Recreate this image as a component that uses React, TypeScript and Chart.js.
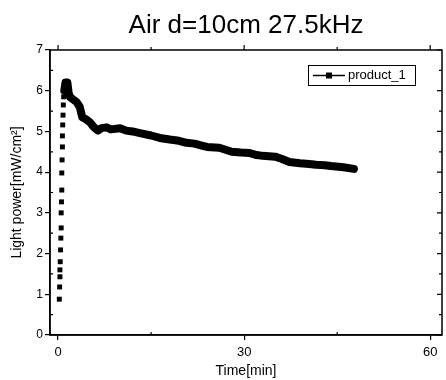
import React, { useEffect, useRef } from "react";
import { Chart, registerables } from "chart.js";

Chart.register(...registerables);

const TITLE = "Air d=10cm 27.5kHz";
const SERIES_LABEL = "product_1";
const X_TITLE = "Time[min]";
const Y_TITLE = "Light power[mW/cm²]";

const xTicks = [0, 30, 60];
const xMinorTicks = [15, 45];
const yTicks = [0, 1, 2, 3, 4, 5, 6, 7];
const yMinorTicks = [0.5, 1.5, 2.5, 3.5, 4.5, 5.5, 6.5];

// rising part (individual square markers)
const riseTime = [0.2, 0.25, 0.3, 0.3, 0.35, 0.4, 0.45, 0.5, 0.5, 0.55, 0.6, 0.6, 0.65, 0.7, 0.7, 0.75, 0.8, 0.85, 0.9];
const risePower = [0.88, 1.18, 1.43, 1.6, 1.8, 2.09, 2.38, 2.63, 3.0, 3.27, 3.56, 3.98, 4.3, 4.62, 4.89, 5.16, 5.4, 5.65, 5.85];

// decaying part (dense markers, drawn as a thick trace)
const decayTime = [1.0, 1.2, 1.5, 1.7, 1.9, 2.3, 3.0, 3.5, 3.9, 4.5, 5.1, 5.8, 6.4, 7.0, 7.8, 8.5, 10, 11, 12, 13.2, 15, 16.4, 18, 19.5, 20.7, 22, 23, 24, 26, 27, 28, 29.5, 30.9, 32, 33, 35, 36, 37.3, 39, 40.5, 41.6, 43, 44, 46, 47.7];
const decayPower = [6.0, 6.2, 6.2, 5.95, 5.85, 5.8, 5.72, 5.6, 5.35, 5.3, 5.23, 5.1, 5.02, 5.08, 5.1, 5.05, 5.08, 5.02, 5.0, 4.96, 4.9, 4.84, 4.8, 4.77, 4.72, 4.7, 4.66, 4.62, 4.6, 4.55, 4.5, 4.48, 4.47, 4.42, 4.4, 4.38, 4.33, 4.25, 4.22, 4.2, 4.18, 4.17, 4.15, 4.12, 4.08];

const FONT = "'Liberation Sans', Arial, sans-serif";

const framePlugin = {
  id: "frame",
  afterDraw(chart: any) {
    const { ctx, chartArea: a, scales } = chart;
    const xs = scales.x;
    const ys = scales.y;
    ctx.save();
    ctx.strokeStyle = "#000";
    ctx.lineWidth = 1.5;
    ctx.strokeRect(a.left, a.top, a.right - a.left, a.bottom - a.top);
    ctx.lineWidth = 1.2;
    ctx.beginPath();
    xTicks.forEach((v) => {
      const px = xs.getPixelForValue(v);
      ctx.moveTo(px, a.top);
      ctx.lineTo(px, a.top - 5);
    });
    xMinorTicks.forEach((v) => {
      const px = xs.getPixelForValue(v);
      ctx.moveTo(px, a.bottom);
      ctx.lineTo(px, a.bottom - 3);
      ctx.moveTo(px, a.top);
      ctx.lineTo(px, a.top - 3);
    });
    yTicks.forEach((v) => {
      const py = ys.getPixelForValue(v);
      ctx.moveTo(a.right, py);
      ctx.lineTo(a.right - 5, py);
    });
    yMinorTicks.forEach((v) => {
      const py = ys.getPixelForValue(v);
      ctx.moveTo(a.right, py);
      ctx.lineTo(a.right - 3, py);
      ctx.moveTo(a.left, py);
      ctx.lineTo(a.left + 3, py);
    });
    ctx.stroke();

    // title
    ctx.fillStyle = "#000";
    ctx.font = `26px ${FONT}`;
    ctx.textAlign = "center";
    ctx.textBaseline = "alphabetic";
    ctx.fillText(TITLE, (a.left + a.right) / 2, 33);

    // legend
    const lx = a.right - 134;
    const ly = a.top + 15;
    const lw = 107;
    const lh = 20;
    ctx.lineWidth = 1;
    ctx.strokeRect(lx + 0.5, ly + 0.5, lw, lh);
    const cy = ly + lh / 2 + 0.5;
    ctx.lineWidth = 1.5;
    ctx.beginPath();
    ctx.moveTo(lx + 5, cy);
    ctx.lineTo(lx + 37, cy);
    ctx.stroke();
    ctx.fillRect(lx + 18, cy - 3, 6, 6);
    ctx.font = `13px ${FONT}`;
    ctx.textAlign = "left";
    ctx.textBaseline = "middle";
    ctx.fillText(SERIES_LABEL, lx + 40, cy);
    ctx.restore();
  },
};

export default function App() {
  const ref = useRef<HTMLCanvasElement | null>(null);
  useEffect(() => {
    if (!ref.current) return;
    const chart = new Chart(ref.current, {
      type: "scatter",
      data: {
        datasets: [
          {
            label: SERIES_LABEL,
            data: riseTime.map((t, i) => ({ x: t, y: risePower[i] })),
            showLine: false,
            pointStyle: "rect",
            pointRadius: 3.5,
            backgroundColor: "#000",
            borderColor: "#000",
            borderWidth: 0,
          },
          {
            label: SERIES_LABEL,
            data: decayTime.map((t, i) => ({ x: t, y: decayPower[i] })),
            showLine: true,
            borderColor: "#000",
            backgroundColor: "#000",
            borderWidth: 8,
            borderJoinStyle: "round",
            borderCapStyle: "round",
            pointRadius: 0,
            tension: 0,
          },
        ],
      },
      options: {
        animation: false,
        responsive: false,
        maintainAspectRatio: false,
        layout: { padding: { top: 50, right: 4, left: 0, bottom: 0 } },
        plugins: {
          legend: { display: false },
          tooltip: { enabled: false },
          title: { display: false },
        },
        scales: {
          x: {
            type: "linear",
            min: -1.3,
            max: 61.9,
            afterBuildTicks: (s: any) => {
              s.ticks = xTicks.map((v) => ({ value: v }));
            },
            afterFit: (s: any) => {
              s.height = 45;
            },
            grid: { display: true, drawOnChartArea: false, drawTicks: true, tickLength: 5, color: "#000", lineWidth: 1.2 },
            border: { display: true, color: "#000", width: 1.5 },
            ticks: { color: "#000", font: { family: FONT, size: 13 }, padding: 5, maxRotation: 0 },
            title: { display: true, text: X_TITLE, color: "#000", font: { family: FONT, size: 14 }, padding: { top: 0, bottom: 0 } },
          },
          y: {
            type: "linear",
            min: 0,
            max: 7,
            afterBuildTicks: (s: any) => {
              s.ticks = yTicks.map((v) => ({ value: v }));
            },
            afterFit: (s: any) => {
              s.width = 50;
            },
            grid: { display: true, drawOnChartArea: false, drawTicks: true, tickLength: 5, color: "#000", lineWidth: 1.2 },
            border: { display: true, color: "#000", width: 1.5 },
            ticks: { color: "#000", font: { family: FONT, size: 12 }, padding: 2 },
            title: { display: true, text: Y_TITLE, color: "#000", font: { family: FONT, size: 14 }, padding: { top: 9, bottom: 0 } },
          },
        },
      },
      plugins: [framePlugin],
    });
    return () => chart.destroy();
  }, []);
  return (
    <div style={{ position: "fixed", left: 0, top: 0, width: 446, height: 380, background: "#fff" }}>
      <canvas ref={ref} width={446} height={380} style={{ width: 446, height: 380 }} />
    </div>
  );
}
